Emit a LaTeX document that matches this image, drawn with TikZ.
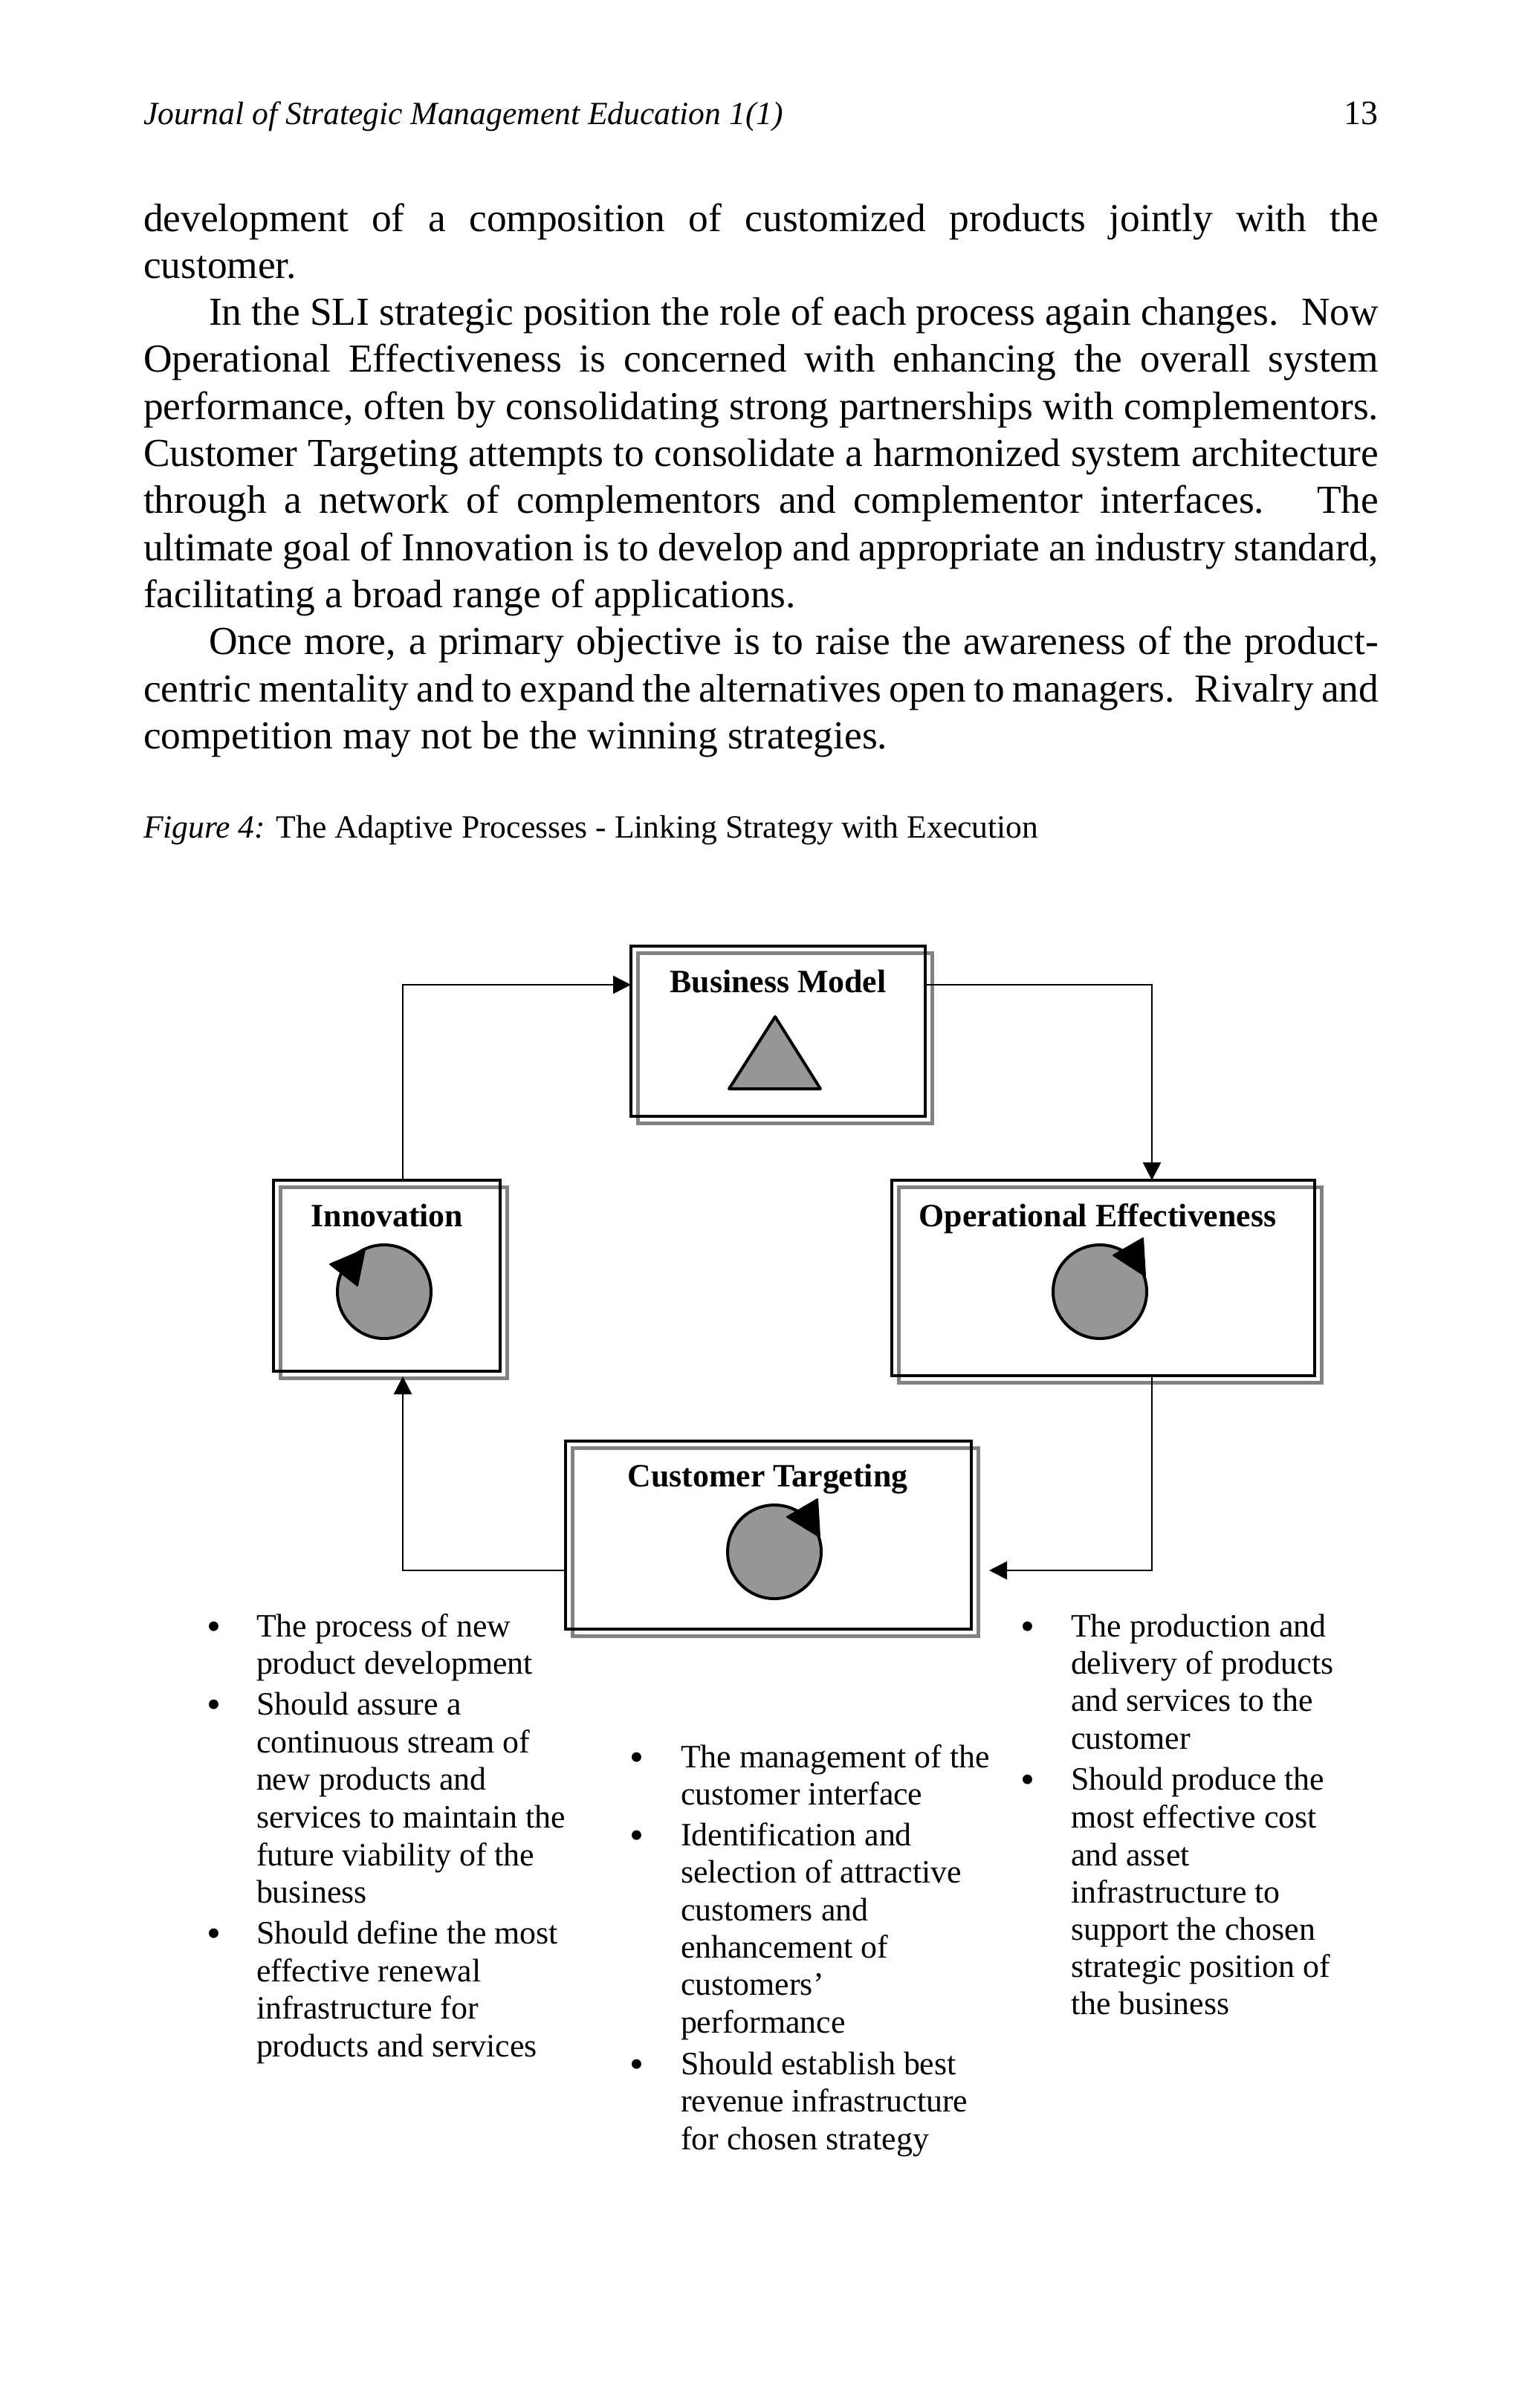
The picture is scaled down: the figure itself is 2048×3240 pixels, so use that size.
\documentclass[tikz,border=0pt]{standalone}
\usepackage{fontspec}
\setmainfont{Liberation Serif}
\usetikzlibrary{arrows.meta}
\definecolor{shade}{HTML}{828282}
\definecolor{solid}{HTML}{969696}
\tikzset{
  txt/.style={anchor=base west,inner sep=0pt,outer sep=0pt},
  bodyt/.style={txt,font=\fontsize{26.7}{30}\selectfont},
  headt/.style={txt,font=\fontsize{21.8}{26}\selectfont},
  listt/.style={txt,font=\fontsize{21.95}{26}\selectfont},
  bult/.style={anchor=base,inner sep=0pt,outer sep=0pt,font=\fontsize{27}{30}\selectfont},
  lab/.style={anchor=base,inner sep=0pt,outer sep=0pt,font=\fontsize{21.9}{26}\selectfont\bfseries},
  bx/.style={draw=black,line width=2.2pt,inner sep=0pt,outer sep=0pt},
  shd/.style={draw=shade,line width=2.4pt,inner sep=0pt,outer sep=0pt},
  conn/.style={draw=black,line width=1.3pt,-{Triangle[length=12pt,width=12pt]}},
  sym/.style={draw=black,fill=solid,line width=2pt,line join=round},
  tip/.style={draw=black,fill=black,line width=1pt,line join=round}
}
\newcommand{\jl}[3]{\node[bodyt] (#1) at (193,#2) {\hbox to 831pt{#3}};}
\newcommand{\il}[3]{\node[bodyt] (#1) at (281,#2) {\hbox to 787pt{#3}};}
\newcommand{\nl}[3]{\node[bodyt] (#1) at (193,#2) {#3};}
\newcommand{\li}[4]{\node[listt] (#1) at (#2,#3) {#4};}
\newcommand{\bu}[3]{\node[bult] (#1) at (#2,#3) {•};}
\begin{document}
\begin{tikzpicture}[x=0.5pt,y=-0.5pt]
\useasboundingbox (0,0) rectangle (2048,3240);
\fill[white] (0,0) rectangle (2048,3240);
% running head
\node[headt] (head) at (193,167) {\itshape Journal of Strategic Management Education 1(1)};
\node[anchor=base east,inner sep=0pt,font=\fontsize{23}{26}\selectfont] (page) at (1855,167) {13};
% body
\jl{a1}{311}{development of a composition of customized products jointly with the}
\nl{a2}{374}{customer.}
\il{a3}{437}{In the SLI strategic position the role of each process again changes.~ Now}
\jl{a4}{500}{Operational Effectiveness is concerned with enhancing the overall system}
\jl{a5}{564}{performance, often by consolidating strong partnerships with complementors.}
\jl{a6}{627}{Customer Targeting attempts to consolidate a harmonized system architecture}
\jl{a7}{690}{through a network of complementors and complementor interfaces.~ The}
\jl{a8}{754}{ultimate goal of Innovation is to develop and appropriate an industry standard,}
\nl{a9}{817}{facilitating a broad range of applications.}
\il{a10}{880}{Once more, a primary objective is to raise the awareness of the product-}
\jl{a11}{944}{centric mentality and to expand the alternatives open to managers.~ Rivalry and}
\nl{a12}{1007}{competition may not be the winning strategies.}
% caption
\node[headt] (cap) at (193,1127) {\itshape Figure 4:\upshape{} The Adaptive Processes - Linking Strategy with Execution};
% shadows
\node[shd,minimum width=198pt,minimum height=114.5pt] (bms) at (1056.5,1397) {};
\node[shd,minimum width=152.5pt,minimum height=128.5pt] (inns) at (530,1726) {};
\node[shd,minimum width=284.5pt,minimum height=131.5pt] (oes) at (1494,1729) {};
\node[shd,minimum width=273pt,minimum height=126.5pt] (cts) at (1043.5,2075) {};
% boxes
\node[bx,minimum width=198pt,minimum height=114.5pt] (bm) at (1047,1387.5) {};
\node[bx,minimum width=152.5pt,minimum height=128.5pt] (inn) at (520.5,1716.5) {};
\node[bx,minimum width=284.5pt,minimum height=131.5pt] (oe) at (1484.5,1719.5) {};
\node[bx,minimum width=273pt,minimum height=126.5pt] (ct) at (1034,2065.5) {};
% labels
\node[lab] (bml) at (1047,1335) {Business Model};
\node[lab] (innl) at (521,1650) {Innovation};
\node[lab] (oel) at (1477,1650) {Operational Effectiveness};
\node[lab] (ctl) at (1033,2000) {Customer Targeting};
% symbols
\draw[sym] (1043,1368) -- (1104,1465) -- (981,1465) -- cycle;
\draw[sym] (517,1738) circle[radius=63];
\fill[tip] (444,1701) -- (491,1681) -- (481,1730) -- cycle;
\draw[sym] (1480,1738) circle[radius=63];
\fill[tip] (1538,1666) -- (1541,1717) -- (1498,1689) -- cycle;
\draw[sym] (1042,2088) circle[radius=63];
\fill[tip] (1100,2017) -- (1103,2068) -- (1059,2041) -- cycle;
% connectors
\coordinate (cl) at (542,1325);
\coordinate (cr) at (1550,1325);
\coordinate (dr) at (1550,2113);
\coordinate (dl) at (542,2113);
\coordinate (ctin) at (1331,2113);
\coordinate (innin) at (542,1852);
\draw[conn] (cl |- inn.north) -- (cl) -- (bm.west |- cl);
\draw[conn] (bm.east |- cr) -- (cr) -- (cr |- oe.north);
\draw[conn] (dr |- oe.south) -- (dr) -- (ctin);
\draw[conn] (ct.west |- dl) -- (dl) -- (innin);
% left list
\bu{b1}{288}{2206}
\li{l1}{345}{2202}{The process of new}
\li{l2}{345}{2252}{product development}
\bu{b2}{288}{2311}
\li{l3}{345}{2307}{Should assure a}
\li{l4}{345}{2358}{continuous stream of}
\li{l5}{345}{2408}{new products and}
\li{l6}{345}{2459}{services to maintain the}
\li{l7}{345}{2510}{future viability of the}
\li{l8}{345}{2560}{business}
\bu{b3}{288}{2619}
\li{l9}{345}{2615}{Should define the most}
\li{l10}{345}{2666}{effective renewal}
\li{l11}{345}{2716}{infrastructure for}
\li{l12}{345}{2767}{products and services}
% centre list
\bu{b4}{857}{2382}
\li{m1}{916}{2378}{The management of the}
\li{m2}{916}{2428}{customer interface}
\bu{b5}{857}{2487}
\li{m3}{916}{2483}{Identification and}
\li{m4}{916}{2533}{selection of attractive}
\li{m5}{916}{2584}{customers and}
\li{m6}{916}{2634}{enhancement of}
\li{m7}{916}{2684}{customers’}
\li{m8}{916}{2735}{performance}
\bu{b6}{857}{2795}
\li{m9}{916}{2791}{Should establish best}
\li{m10}{916}{2841}{revenue infrastructure}
\li{m11}{916}{2892}{for chosen strategy}
% right list
\bu{b7}{1383}{2206}
\li{r1}{1441}{2202}{The production and}
\li{r2}{1441}{2252}{delivery of products}
\li{r3}{1441}{2302}{and services to the}
\li{r4}{1441}{2353}{customer}
\bu{b8}{1383}{2412}
\li{r5}{1441}{2408}{Should produce the}
\li{r6}{1441}{2459}{most effective cost}
\li{r7}{1441}{2510}{and asset}
\li{r8}{1441}{2560}{infrastructure to}
\li{r9}{1441}{2610}{support the chosen}
\li{r10}{1441}{2660}{strategic position of}
\li{r11}{1441}{2710}{the business}
\end{tikzpicture}
\end{document}
